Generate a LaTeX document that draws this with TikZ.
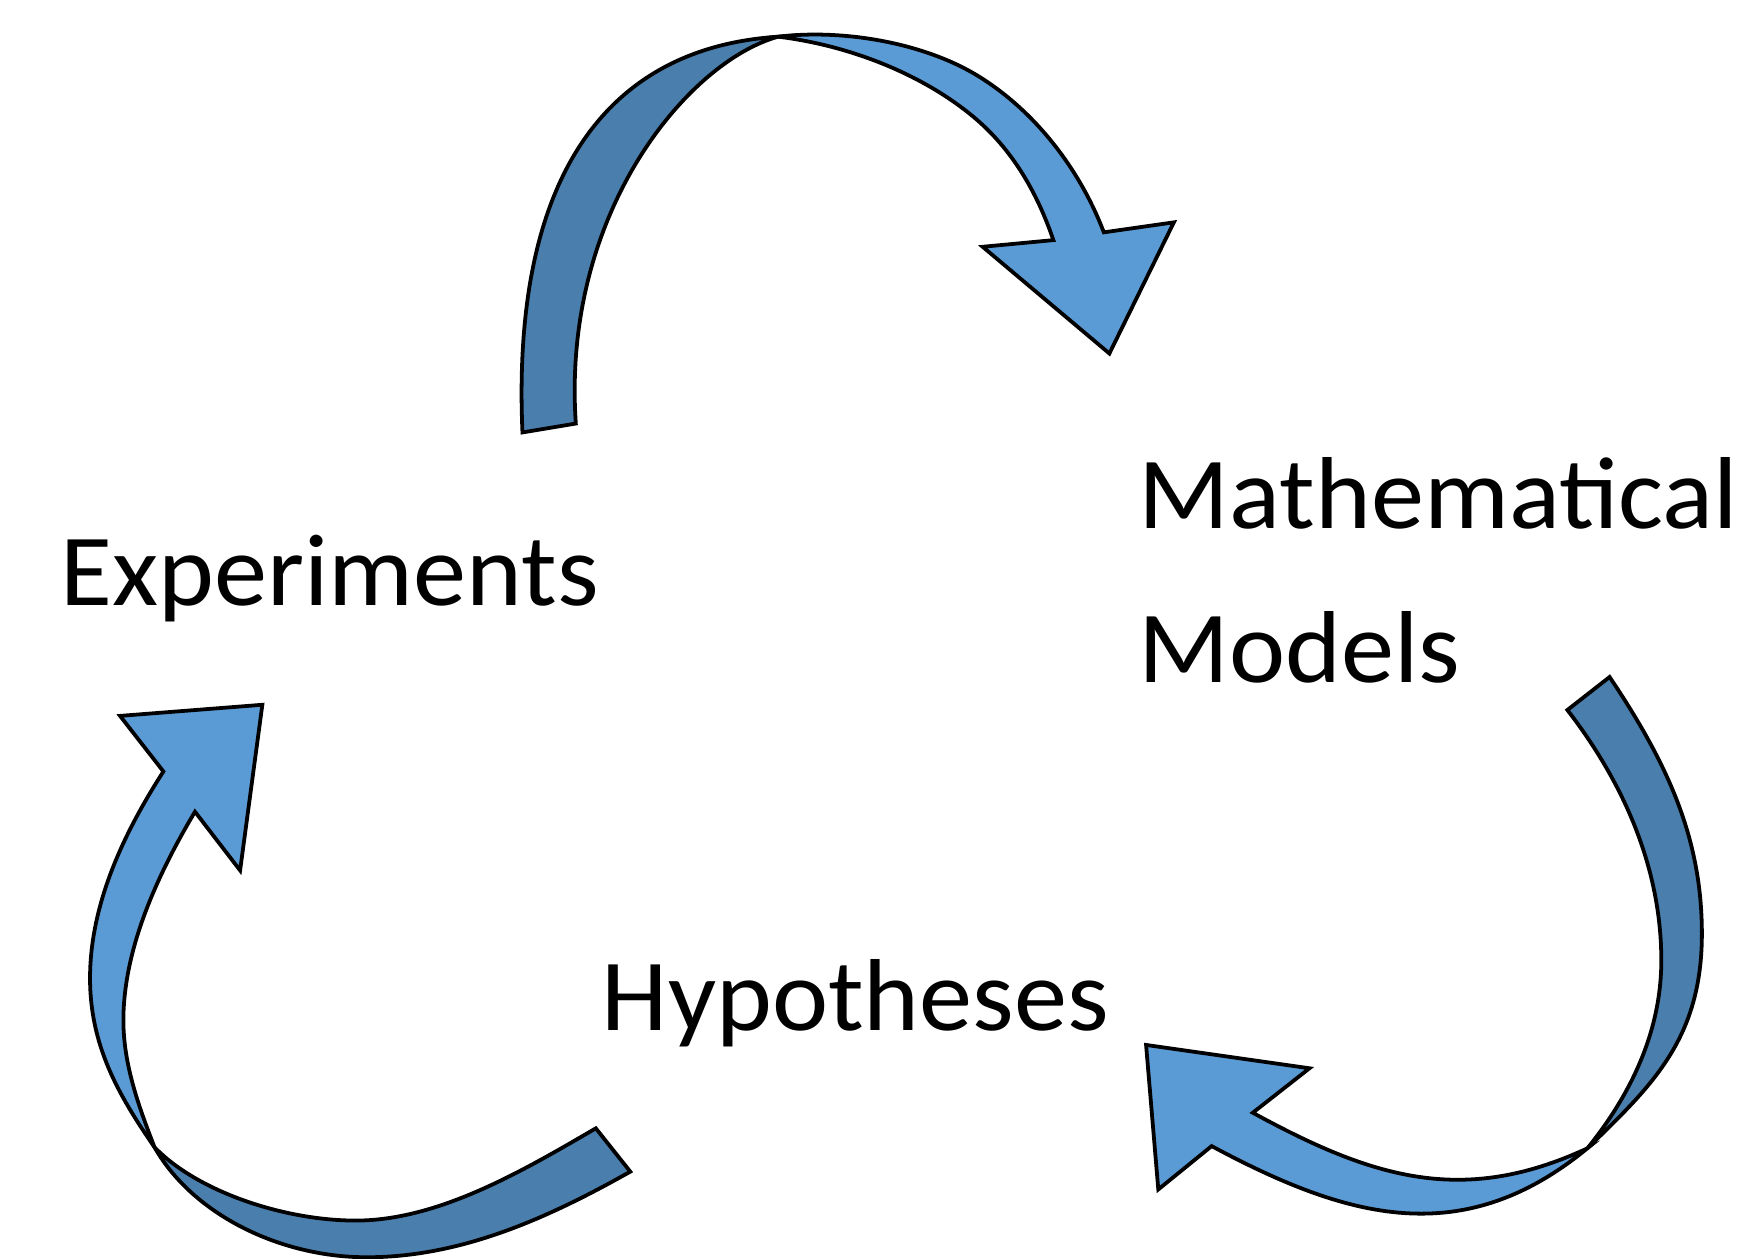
\documentclass[tikz,border=0pt]{standalone}
\usepackage{graphicx}
\usepackage{fontspec}
\setmainfont{Carlito}
\definecolor{darkband}{RGB}{74,126,172}
\definecolor{lightband}{RGB}{91,155,213}
\newcommand{\widetxt}[1]{\scalebox{1.04}[1]{#1}}
\begin{document}
\begin{tikzpicture}[x=0.5pt,y=-0.5pt,
  back/.style={fill=darkband,draw=black,line width=1.7pt,line join=miter},
  front/.style={fill=lightband,draw=black,line width=1.7pt,line join=miter},
  lbl/.style={font=\fontsize{46}{50}\selectfont,anchor=base west,inner sep=0pt}]
\useasboundingbox (0,0) rectangle (1568,1132);
\clip (0,0) rectangle (1568,1132);
\fill[white] (0,0) rectangle (1568,1132);

% ---------- top arrow: Experiments -> Mathematical Models ----------
\coordinate (tP) at (700,33);
\filldraw[back] (470,389) .. controls (460,160) and (545,43) .. (tP)
  .. controls (620,55) and (505,190) .. (518,381) -- cycle;
\filldraw[front] (tP) .. controls (758,26) and (828,38.3) .. (875.6,65.8)
  .. controls (929,97) and (971,151) .. (993,209)
  -- (1056,200) -- (998,318) -- (884,222) -- (947.6,216)
  .. controls (933,173) and (910.3,133.8) .. (875.6,105)
  .. controls (827.9,65.3) and (761.4,40.4) .. (tP) -- cycle;

% ---------- right arrow: Mathematical Models -> Hypotheses ----------
\coordinate (rP) at (1428,1033);
\filldraw[back] (1448,609) .. controls (1501,688) and (1531,755) .. (1531,840)
  .. controls (1531,935) and (1485.6,977) .. (rP)
  .. controls (1466,986) and (1494.5,929) .. (1494.5,864)
  .. controls (1494.5,779) and (1459,702) .. (1410,638.7) -- cycle;
\filldraw[front] (rP) .. controls (1316,1085) and (1235,1060) .. (1127,1001)
  -- (1178,961) -- (1031,940) -- (1042,1070) -- (1090,1031)
  .. controls (1213,1097) and (1316,1125) .. (rP) -- cycle;

% ---------- left arrow: Hypotheses -> Experiments ----------
\coordinate (lP) at (139,1032);
\filldraw[back] (567,1054) .. controls (493,1095.7) and (415,1131) .. (330,1131)
  .. controls (250,1131) and (172.3,1091) .. (lP)
  .. controls (177,1071.6) and (255,1098) .. (320,1098)
  .. controls (395,1098) and (471.5,1052.5) .. (536,1015) -- cycle;
\filldraw[front] (lP) .. controls (106,984.4) and (81,940) .. (81,880)
  .. controls (81,810) and (114.6,744.4) .. (147,694)
  -- (108,644) -- (236,634) -- (216,783) -- (175.4,730.2)
  .. controls (142.2,786) and (111,853) .. (111,918)
  .. controls (111,958) and (125.3,996.7) .. (lP) -- cycle;

% ---------- labels ----------
\node[lbl] (exp) at (54,545) {\widetxt{Experiments}};
\node[lbl] (math) at (1024,475) {\widetxt{Mathematical}};
\node[lbl] (mod) at (1024,614) {\widetxt{Models}};
\node[lbl] (hyp) at (541,927) {\widetxt{Hypotheses}};
\end{tikzpicture}
\end{document}
